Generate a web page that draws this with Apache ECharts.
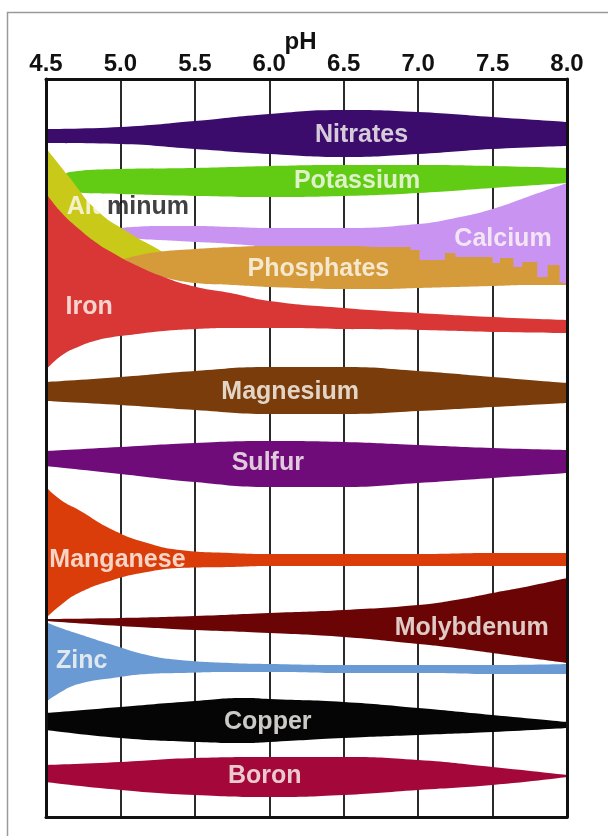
<!DOCTYPE html>
<html>
<head>
<meta charset="utf-8">
<title>Nutrient availability by soil pH</title>
<script src="https://cdn.jsdelivr.net/npm/echarts@6.0.0/dist/echarts.min.js"></script>
<style>
  html, body { margin: 0; padding: 0; background: #fff; }
  #chart { width: 608px; height: 836px; }
</style>
</head>
<body>
<div id="chart"></div>
<script>
// pH ticks along the top
const phTicks = [4.5, 5.0, 5.5, 6.0, 6.5, 7.0, 7.5, 8.0]

// every band: pH samples, upper edge, lower edge
// (depth down the chart: 0 = top of the box, 738 = bottom)
const nitratesPh = phTicks
const nitratesTop = [50, 48, 42, 35, 31, 33, 38, 43]
const nitratesBottom = [64, 65, 70, 75, 78, 75, 70, 67]

const potassiumPh = [4.6, 4.66, 5.0, 5.5, 6.0, 6.5, 7.0, 7.5, 8.0]
const potassiumTop = [101, 93, 90, 89, 87, 86, 86, 87, 89]
const potassiumBottom = [104, 113, 115, 117, 118, 117, 114, 109, 104]

const aluminumPh = [4.5, 4.65, 4.84, 5.06, 5.25, 5.3]
const aluminumTop = [69, 97, 131, 154, 170, 175]
const aluminumBottom = [126, 149, 173, 185, 183, 177]

const calciumPh = [5.0, 5.25, 5.5, 5.75, 6.0, 6.5, 7.0, 7.25, 7.5, 7.75, 8.0]
const calciumTop = [149, 147, 147, 148, 149, 149, 145, 139, 130, 117, 104]
const calciumBottom = [159, 161, 163, 165, 168, 173, 185, 190, 195, 202, 206]

const phosphatesPh = [4.98, 5.1, 5.25, 5.5, 5.75, 6.0, 6.5, 6.75, 7.0, 7.25, 7.5, 7.75, 8.0]
const phosphatesTop = [182, 177, 173, 170, 168, 167, 167, 169, 183, 186, 191, 201, 205]
const phosphatesBottom = [184, 191, 197, 204, 206, 208, 210, 210, 209, 208, 207, 206, 206]

// the ragged top of the phosphate band on the alkaline side
const phosphatesRagPh = [6.7, 6.95, 7.01, 7.18, 7.25, 7.5, 7.55, 7.64, 7.7, 7.8, 7.87, 7.95, 8.0]
const phosphatesRagTop = [168, 171, 181, 174, 178, 184, 179, 188, 183, 198, 186, 203, 203]
const phosphatesRagBottom = [205, 205, 205, 205, 205, 205, 205, 205, 205, 205, 205, 205, 205]

const ironPh = [4.5, 4.6, 4.73, 4.85, 4.95, 5.06, 5.29, 5.51, 5.74, 6.0, 6.5, 7.0, 7.5, 8.0]
const ironTop = [114, 133, 151, 165, 174, 183, 198, 208, 214, 222, 229, 234, 238, 241]
const ironBottom = [291, 277, 267, 261, 258, 256, 252, 250, 249, 249, 250, 251, 253, 254]

const magnesiumPh = phTicks
const magnesiumTop = [303, 298, 292, 288, 288, 292, 298, 304]
const magnesiumBottom = [322, 326, 331, 335, 335, 332, 328, 324]

const sulfurPh = phTicks
const sulfurTop = [372, 368, 364, 362, 363, 366, 369, 371]
const sulfurBottom = [387, 395, 403, 408, 408, 404, 399, 394]

const manganesePh = [4.5, 4.6, 4.72, 4.95, 5.18, 5.4, 5.74, 6.0, 6.5, 7.0, 7.5, 8.0]
const manganeseTop = [408, 421, 431, 451, 464, 471, 474, 475, 475, 475, 474, 474]
const manganeseBottom = [539, 526, 514, 501, 493, 489, 488, 487, 487, 487, 487, 487]

const molybdenumPh = [4.5, 5.0, 5.5, 6.0, 6.5, 7.0, 7.25, 7.5, 7.75, 8.0]
const molybdenumTop = [540, 539, 537, 534, 531, 526, 521, 514, 507, 499]
const molybdenumBottom = [542, 547, 551, 554, 558, 565, 569, 574, 579, 584]

const zincPh = [4.5, 4.6, 4.72, 4.95, 5.18, 5.4, 5.74, 6.0, 6.5, 7.0, 7.5, 8.0]
const zincTop = [543, 549, 555, 566, 576, 581, 584, 585, 586, 586, 586, 585]
const zincBottom = [623, 613, 605, 599, 595, 594, 593, 593, 594, 594, 595, 595]

const copperPh = [4.5, 5.0, 5.5, 5.85, 6.0, 6.5, 7.0, 7.5, 8.0]
const copperTop = [634, 628, 622, 619, 620, 623, 629, 636, 643]
const copperBottom = [651, 659, 663, 664, 663, 659, 656, 653, 649]

const boronPh = phTicks
const boronTop = [686, 683, 679, 678, 678, 681, 688, 696]
const boronBottom = [703, 711, 716, 718, 716, 711, 706, 698]

const FONT = '"Liberation Sans", Arial, Helvetica, sans-serif'

// drawn in this order, later ones on top
const bands = [
  ['Nitrates', '#3c0c6d', nitratesPh, nitratesTop, nitratesBottom],
  ['Potassium', '#62cc14', potassiumPh, potassiumTop, potassiumBottom],
  ['Calcium', '#c993f2', calciumPh, calciumTop, calciumBottom],
  ['Aluminum', '#c9c91a', aluminumPh, aluminumTop, aluminumBottom],
  ['Phosphates', '#d59b3b', phosphatesPh, phosphatesTop, phosphatesBottom],
  ['PhosphatesRag', '#d59b3b', phosphatesRagPh, phosphatesRagTop, phosphatesRagBottom, 'end'],
  ['Iron', '#d93636', ironPh, ironTop, ironBottom],
  ['Magnesium', '#7b3c0c', magnesiumPh, magnesiumTop, magnesiumBottom],
  ['Sulfur', '#700c7a', sulfurPh, sulfurTop, sulfurBottom],
  ['Manganese', '#db3d0a', manganesePh, manganeseTop, manganeseBottom],
  ['Molybdenum', '#6b0505', molybdenumPh, molybdenumTop, molybdenumBottom],
  ['Zinc', '#6a9ad4', zincPh, zincTop, zincBottom],
  ['Copper', '#050505', copperPh, copperTop, copperBottom],
  ['Boron', '#a4073a', boronPh, boronTop, boronBottom]
]

// Two stacked lines per band: an invisible upper edge, then the thickness
// stacked on it with an area fill. Depth is the first column so that the
// stack runs down the y axis and not along pH.
function bandSeries(name, color, ph, top, bottom, step) {
  const common = {
    type: 'line', stack: name, symbol: 'none', silent: true,
    encode: { x: 1, y: 0 },
    smooth: step ? false : 0.5, step: step || false,
    lineStyle: { width: 0, color: color }
  }
  return [
    Object.assign({}, common, { name: name + ' edge', data: ph.map((p, i) => [top[i], p]) }),
    Object.assign({}, common, {
      name: name,
      data: ph.map((p, i) => [bottom[i] - top[i], p]),
      areaStyle: { color: color, opacity: 1 }
    })
  ]
}

let series = []
bands.forEach(b => { series = series.concat(bandSeries(b[0], b[1], b[2], b[3], b[4], b[5])) })

// band names, placed in chart units
const labelSpots = [
  ['Nitrates', 6.62, 56], ['Potassium', 6.59, 102], ['Calcium', 7.57, 160],
  ['Phosphates', 6.33, 190], ['Iron', 4.79, 228], ['Magnesium', 6.14, 313],
  ['Sulfur', 5.99, 384], ['Manganese', 4.98, 481], ['Molybdenum', 7.36, 549],
  ['Zinc', 4.74, 582], ['Copper', 5.99, 643], ['Boron', 5.97, 697]
]
const labelData = labelSpots.map(s => ({ name: s[0], value: [s[1], s[2]] }))
labelData.push({
  name: 'Aluminum', value: [5.05, 128],
  label: {
    formatter: '{w|Alu}{k|minum}',
    rich: {
      w: { color: '#fdfbf5', fontSize: 25, fontWeight: 'bold', fontFamily: FONT },
      k: { color: '#111', fontSize: 25, fontWeight: 'bold', fontFamily: FONT }
    }
  }
})
series.push({
  type: 'scatter', silent: true, symbolSize: 0, itemStyle: { color: 'transparent' }, z: 5,
  data: labelData,
  label: {
    show: true, position: 'inside', formatter: '{b}',
    color: '#fdfbf5', fontSize: 25, fontWeight: 'bold', fontFamily: FONT
  }
})

const border = { show: true, onZero: false, lineStyle: { color: '#111', width: 3 } }

const myChart = echarts.init(document.getElementById('chart'), null, { renderer: 'canvas' })
const option = {
  backgroundColor: '#fff',
  animation: false,
  grid: { left: 46, top: 79, width: 521, height: 738 },
  graphic: [{
    type: 'rect', z: -1, silent: true,
    shape: { x: 7.5, y: 12.5, width: 700, height: 900 },
    style: { fill: 'none', stroke: '#9a9a9a', lineWidth: 1.5 }
  }],
  xAxis: [{
    type: 'value', position: 'top', min: phTicks[0], max: phTicks[phTicks.length - 1], interval: 0.5,
    name: 'pH', nameLocation: 'middle', nameGap: 25, nameMoveOverlap: false,
    nameTextStyle: { color: '#111', fontSize: 24, fontWeight: 'bold', fontFamily: FONT, padding: [0, 12, 0, 0] },
    axisLine: border, axisTick: { show: false },
    axisLabel: {
      color: '#111', fontSize: 24, fontWeight: 'bold', fontFamily: FONT, margin: 3,
      showMinLabel: true, showMaxLabel: true, formatter: v => v.toFixed(1)
    },
    splitLine: { show: true, lineStyle: { color: '#2a2a2a', width: 2 } }
  }, {
    type: 'value', position: 'bottom', min: phTicks[0], max: phTicks[phTicks.length - 1], z: 10,
    axisLine: border, axisTick: { show: false }, axisLabel: { show: false }, splitLine: { show: false }
  }],
  yAxis: [{
    type: 'value', inverse: true, min: 0, max: 738, position: 'left', z: 10,
    axisLine: border, axisTick: { show: false }, axisLabel: { show: false }, splitLine: { show: false }
  }, {
    type: 'value', inverse: true, min: 0, max: 738, position: 'right', z: 10,
    axisLine: border, axisTick: { show: false }, axisLabel: { show: false }, splitLine: { show: false }
  }],
  series: series
}
myChart.setOption(option)
</script>
</body>
</html>
